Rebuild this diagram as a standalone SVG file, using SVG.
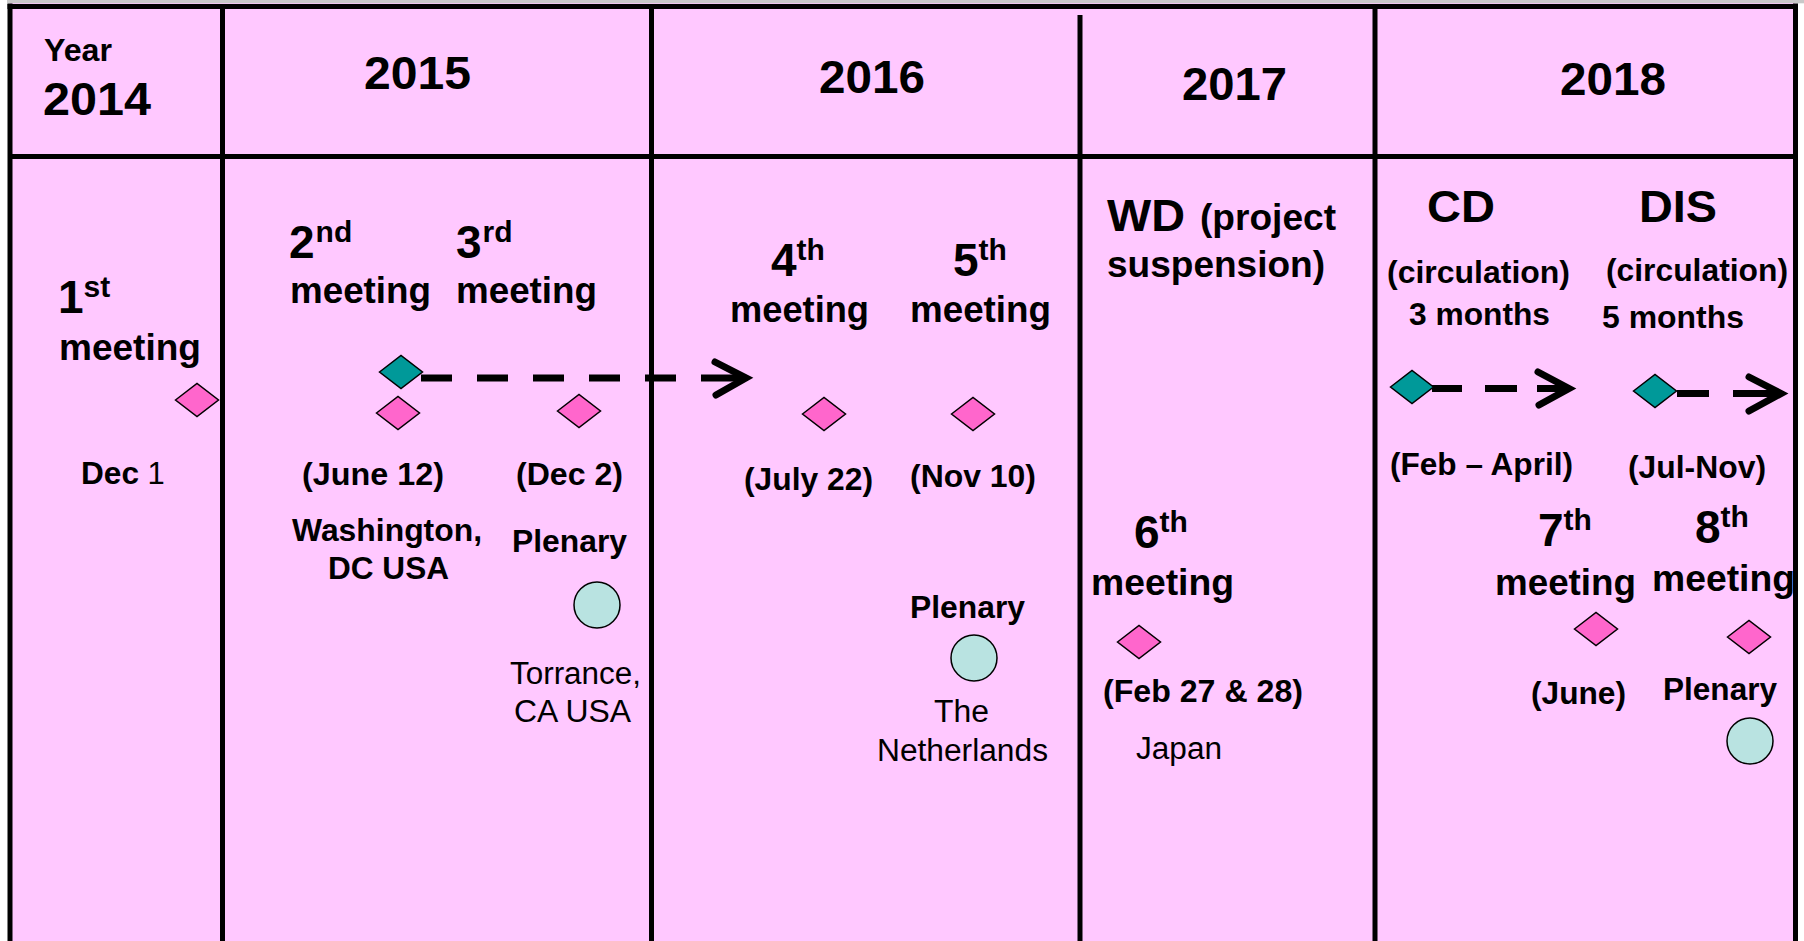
<svg xmlns="http://www.w3.org/2000/svg" width="1804" height="941" viewBox="0 0 1804 941">
<style>
text{font-family:"Liberation Sans",Arial,sans-serif;fill:#000;}
.b{font-weight:bold;font-size:31px;}
.r{font-weight:normal;font-size:31px;}
.yr{font-weight:bold;font-size:47px;}
.num{font-weight:bold;font-size:46px;}
.sup{font-weight:bold;font-size:30px;}
.mt{font-weight:bold;font-size:36px;}
.big{font-weight:bold;font-size:44px;}
.grid{stroke:#000;stroke-width:5;fill:none;}
.pink{fill:#FF66CC;stroke:#000;stroke-width:1.5;}
.teal{fill:#009999;stroke:#000;stroke-width:1.5;}
.plen{fill:#B9E3E1;stroke:#000;stroke-width:1.5;}
.dash{stroke:#000;stroke-width:7;fill:none;}
.head{stroke:#000;stroke-width:7;fill:none;stroke-linecap:round;stroke-linejoin:miter;}
</style>
<defs>
<path id="dia" d="M-21.5,0 L0,-16.5 L21.5,0 L0,16.5 Z"/>
</defs>
<rect x="0" y="0" width="1804" height="941" fill="#FFFFFF"/>
<rect x="10" y="3" width="1785" height="938" fill="#FFC8FF"/>
<rect x="7" y="0" width="1797" height="3.3" fill="#C8C8C8"/>

<g id="header">
<text class="b" x="44" y="61" font-size="30" textLength="68" lengthAdjust="spacingAndGlyphs">Year</text>
<text class="yr" x="43" y="115" textLength="108" lengthAdjust="spacingAndGlyphs">2014</text>
<text class="yr" x="364" y="89" textLength="107" lengthAdjust="spacingAndGlyphs">2015</text>
<text class="yr" x="819" y="93" textLength="106" lengthAdjust="spacingAndGlyphs">2016</text>
<text class="yr" x="1182" y="100" textLength="105" lengthAdjust="spacingAndGlyphs">2017</text>
<text class="yr" x="1560" y="95" textLength="106" lengthAdjust="spacingAndGlyphs">2018</text>
</g>

<g id="connectors">
<line class="dash" x1="421" y1="378" x2="745" y2="378" stroke-dasharray="31 25 31 25 31 25 31 25 31 25 60"/>
<polyline class="head" points="715,362 746,378 716,395"/>
<line class="dash" x1="1432" y1="388.5" x2="1568" y2="388.5" stroke-dasharray="30 23 32 20 60"/>
<polyline class="head" points="1538,372 1569,388.5 1539,405"/>
<line class="dash" x1="1677" y1="393.5" x2="1780" y2="393.5" stroke-dasharray="32 24 60"/>
<polyline class="head" points="1749,377 1781,393.5 1749,411"/>
</g>

<g id="m1">
<text x="58" y="313"><tspan class="num">1</tspan><tspan class="sup" dx="0" dy="-16">st</tspan></text>
<text class="mt" x="59" y="360" textLength="142" lengthAdjust="spacingAndGlyphs">meeting</text>
<use href="#dia" class="pink" x="197" y="400"/>
<text x="81" y="484"><tspan class="b" textLength="58" lengthAdjust="spacingAndGlyphs">Dec</tspan><tspan class="r"> 1</tspan></text>
</g>

<g id="m2">
<text x="289" y="258"><tspan class="num">2</tspan><tspan class="sup" dx="1" dy="-16">nd</tspan></text>
<text class="mt" x="290" y="303" textLength="141" lengthAdjust="spacingAndGlyphs">meeting</text>
<use href="#dia" class="pink" x="398" y="413"/>
<use href="#dia" class="teal" x="401" y="372"/>
<text class="b" x="302" y="485" textLength="142" lengthAdjust="spacingAndGlyphs">(June 12)</text>
<text class="b" x="292" y="541" textLength="190" lengthAdjust="spacingAndGlyphs">Washington,</text>
<text class="b" x="328" y="579" textLength="121" lengthAdjust="spacingAndGlyphs">DC USA</text>
</g>

<g id="m3">
<text x="456" y="258"><tspan class="num">3</tspan><tspan class="sup" dx="1" dy="-16">rd</tspan></text>
<text class="mt" x="456" y="303" textLength="141" lengthAdjust="spacingAndGlyphs">meeting</text>
<use href="#dia" class="pink" x="579" y="411"/>
<text class="b" x="516" y="485" textLength="107" lengthAdjust="spacingAndGlyphs">(Dec 2)</text>
<text class="b" x="512" y="552" textLength="115" lengthAdjust="spacingAndGlyphs">Plenary</text>
<circle class="plen" cx="597" cy="605" r="23"/>
<text class="r" x="510" y="684" textLength="131" lengthAdjust="spacingAndGlyphs">Torrance,</text>
<text class="r" x="514" y="722" textLength="117" lengthAdjust="spacingAndGlyphs">CA USA</text>
</g>

<g id="m4">
<text x="771" y="276"><tspan class="num">4</tspan><tspan class="sup" dx="0" dy="-16">th</tspan></text>
<text class="mt" x="730" y="322" textLength="139" lengthAdjust="spacingAndGlyphs">meeting</text>
<use href="#dia" class="pink" x="824" y="414"/>
<text class="b" x="744" y="490" textLength="129" lengthAdjust="spacingAndGlyphs">(July 22)</text>
</g>

<g id="m5">
<text x="953" y="276"><tspan class="num">5</tspan><tspan class="sup" dx="0" dy="-16">th</tspan></text>
<text class="mt" x="910" y="322" textLength="141" lengthAdjust="spacingAndGlyphs">meeting</text>
<use href="#dia" class="pink" x="973" y="414"/>
<text class="b" x="910" y="487" textLength="126" lengthAdjust="spacingAndGlyphs">(Nov 10)</text>
<text class="b" x="910" y="618" textLength="115" lengthAdjust="spacingAndGlyphs">Plenary</text>
<circle class="plen" cx="974" cy="658" r="23"/>
<text class="r" x="934" y="722" textLength="55" lengthAdjust="spacingAndGlyphs">The</text>
<text class="r" x="877" y="761" textLength="171" lengthAdjust="spacingAndGlyphs">Netherlands</text>
</g>

<g id="wd">
<text class="big" x="1107" y="231" textLength="78" lengthAdjust="spacingAndGlyphs">WD</text>
<text class="mt" x="1200" y="230" textLength="136" lengthAdjust="spacingAndGlyphs">(project</text>
<text class="mt" x="1107" y="277" textLength="218" lengthAdjust="spacingAndGlyphs">suspension)</text>
</g>

<g id="m6">
<text x="1134" y="548"><tspan class="num">6</tspan><tspan class="sup" dx="0" dy="-16">th</tspan></text>
<text class="mt" x="1091" y="595" textLength="143" lengthAdjust="spacingAndGlyphs">meeting</text>
<use href="#dia" class="pink" x="1139" y="642"/>
<text class="b" x="1103" y="702" textLength="200" lengthAdjust="spacingAndGlyphs">(Feb 27 &amp; 28)</text>
<text class="r" x="1136" y="759" textLength="86" lengthAdjust="spacingAndGlyphs">Japan</text>
</g>

<g id="cd">
<text class="big" x="1427" y="222" textLength="68" lengthAdjust="spacingAndGlyphs">CD</text>
<text class="b" x="1387" y="283" textLength="183" lengthAdjust="spacingAndGlyphs">(circulation)</text>
<text class="b" x="1409" y="325" textLength="141" lengthAdjust="spacingAndGlyphs">3 months</text>
<use href="#dia" class="teal" x="1412" y="387"/>
<text class="b" x="1390" y="475" textLength="183" lengthAdjust="spacingAndGlyphs">(Feb – April)</text>
</g>

<g id="dis">
<text class="big" x="1639" y="222" textLength="78" lengthAdjust="spacingAndGlyphs">DIS</text>
<text class="b" x="1606" y="281" textLength="182" lengthAdjust="spacingAndGlyphs">(circulation)</text>
<text class="b" x="1602" y="328" textLength="142" lengthAdjust="spacingAndGlyphs">5 months</text>
<use href="#dia" class="teal" x="1655" y="391"/>
<text class="b" x="1628" y="478" textLength="138" lengthAdjust="spacingAndGlyphs">(Jul-Nov)</text>
</g>

<g id="m7">
<text x="1538" y="546"><tspan class="num">7</tspan><tspan class="sup" dx="0" dy="-16">th</tspan></text>
<text class="mt" x="1495" y="595" textLength="141" lengthAdjust="spacingAndGlyphs">meeting</text>
<use href="#dia" class="pink" x="1596" y="629"/>
<text class="b" x="1531" y="704" textLength="95" lengthAdjust="spacingAndGlyphs">(June)</text>
</g>

<g id="m8">
<text x="1695" y="543"><tspan class="num">8</tspan><tspan class="sup" dx="0" dy="-16">th</tspan></text>
<text class="mt" x="1652" y="591" textLength="143" lengthAdjust="spacingAndGlyphs">meeting</text>
<use href="#dia" class="pink" x="1749" y="637"/>
<text class="b" x="1663" y="700" textLength="114" lengthAdjust="spacingAndGlyphs">Plenary</text>
<circle class="plen" cx="1750" cy="741" r="23"/>
</g>

<g id="grid">
<line class="grid" x1="7.5" y1="6.5" x2="1798" y2="6.5" stroke-width="6"/>
<line class="grid" x1="10" y1="3.5" x2="10" y2="941"/>
<line class="grid" x1="1795.5" y1="3.5" x2="1795.5" y2="941"/>
<line class="grid" x1="10" y1="156.5" x2="1795" y2="156.5"/>
<line class="grid" x1="222.5" y1="6" x2="222.5" y2="941"/>
<line class="grid" x1="651.5" y1="6" x2="651.5" y2="941"/>
<line class="grid" x1="1080" y1="15" x2="1080" y2="941"/>
<line class="grid" x1="1375" y1="6" x2="1375" y2="941"/>
</g>
</svg>
